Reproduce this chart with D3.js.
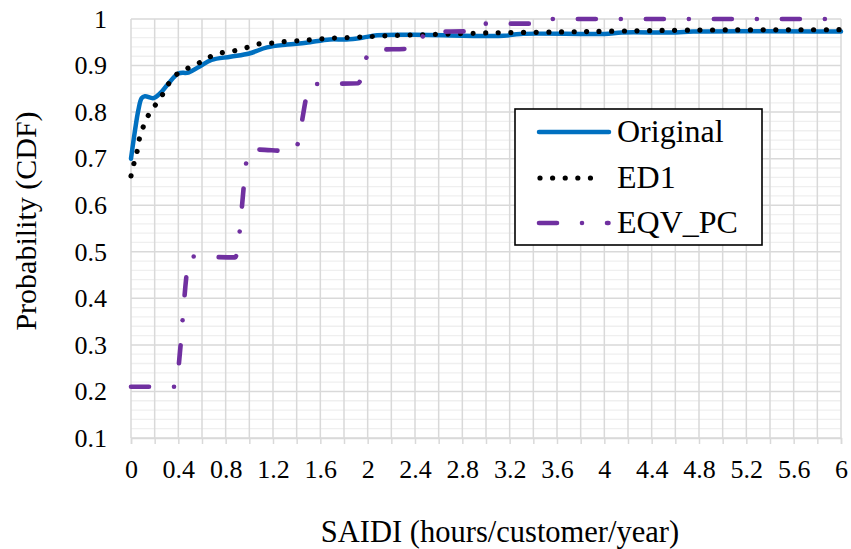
<!DOCTYPE html>
<html>
<head>
<meta charset="utf-8">
<script src="https://cdn.jsdelivr.net/npm/d3@7/dist/d3.min.js"></script>
<style>
  html, body { margin: 0; padding: 0; background: #fff; }
  svg text { font-family: "Liberation Serif", "Times New Roman", serif; }
</style>
</head>
<body>
<svg id="chart" width="851" height="549"></svg>
<script>
// SAIDI cumulative distributions
const originalX = [0, 0.034, 0.062, 0.09, 0.118, 0.19, 0.245, 0.315, 0.40, 0.485, 0.58, 0.68, 0.84, 1.0, 1.15, 1.32, 1.48, 1.68, 1.82, 1.96, 2.08, 2.4, 3.15, 3.29, 4.0, 4.15, 4.6, 4.75, 6.0];
const originalY = [0.70, 0.761, 0.804, 0.830, 0.834, 0.830, 0.840, 0.861, 0.883, 0.885, 0.898, 0.912, 0.919, 0.926, 0.939, 0.945, 0.949, 0.956, 0.956, 0.960, 0.965, 0.966, 0.964, 0.968, 0.968, 0.971, 0.971, 0.973, 0.973];

const ed1X = [0, 0.025, 0.05, 0.07, 0.10, 0.14, 0.20, 0.26, 0.31, 0.38, 0.47, 0.57, 0.66, 0.76, 0.86, 0.97, 1.07, 1.18, 1.28, 1.39, 1.5, 1.71, 1.94, 2.15, 2.59, 3.0, 3.6, 4.1, 4.7, 6.0];
const ed1Y = [0.663, 0.69, 0.714, 0.742, 0.766, 0.79, 0.813, 0.835, 0.858, 0.88, 0.893, 0.905, 0.918, 0.927, 0.931, 0.938, 0.946, 0.948, 0.951, 0.953, 0.955, 0.959, 0.961, 0.964, 0.967, 0.970, 0.972, 0.974, 0.976, 0.977];

const eqvX = [0, 0.37, 0.50, 0.88, 1.0, 1.38, 1.52, 1.92, 2.02, 2.40, 2.50, 2.90, 2.98, 3.45, 3.55, 6.0];
const eqvY = [0.21, 0.21, 0.49, 0.488, 0.72, 0.716, 0.86, 0.862, 0.933, 0.937, 0.972, 0.974, 0.99, 0.99, 1.0, 1.0];

const seriesNames = ["Original", "ED1", "EQV_PC"];
const xTickLabels = ["0", "0.4", "0.8", "1.2", "1.6", "2", "2.4", "2.8", "3.2", "3.6", "4", "4.4", "4.8", "5.2", "5.6", "6"];
const yTickLabels = ["0.1", "0.2", "0.3", "0.4", "0.5", "0.6", "0.7", "0.8", "0.9", "1"];

const FONT = '"Liberation Serif", "Times New Roman", serif';
const svg = d3.select("#chart");
const plotLeft = 131, plotRight = 841, plotTop = 19, plotBottom = 438;

const x = d3.scaleLinear().domain([0, 6]).range([plotLeft, plotRight]);
const y = d3.scaleLinear().domain([0.1, 1]).range([plotBottom, plotTop]);

// gridlines: light minor rows every 0.02, major rows every 0.1, columns every 0.2
const grid = svg.append("g");
const minorY = d3.range(10, 101, 2).map(v => v / 100).filter(v => Math.round(v * 100) % 10 !== 0);
grid.selectAll("line.minor").data(minorY).join("line")
  .attr("x1", plotLeft).attr("x2", plotRight)
  .attr("y1", d => y(d)).attr("y2", d => y(d))
  .attr("stroke", "#efefef").attr("stroke-width", 1.3);
const majorX = d3.range(0, 31).map(i => i * 0.2);
grid.selectAll("line.vx").data(majorX).join("line")
  .attr("x1", d => x(d)).attr("x2", d => x(d))
  .attr("y1", plotTop).attr("y2", plotBottom)
  .attr("stroke", "#d9d9d9").attr("stroke-width", 1.5);
const majorY = yTickLabels.map(Number);
grid.selectAll("line.hy").data(majorY).join("line")
  .attr("x1", plotLeft).attr("x2", plotRight)
  .attr("y1", d => y(d)).attr("y2", d => y(d))
  .attr("stroke", "#d9d9d9").attr("stroke-width", 1.5);

// x axis: small ticks every 0.2, labels every 0.4
const xTicksAxis = svg.append("g").attr("transform", `translate(0,${plotBottom})`)
  .call(d3.axisBottom(x).tickValues(majorX).tickSize(6).tickFormat(""));
xTicksAxis.select(".domain").attr("stroke", "#d9d9d9").attr("stroke-width", 1.5);
xTicksAxis.selectAll(".tick line").attr("stroke", "#d9d9d9").attr("stroke-width", 1.5);

const xLabelAxis = svg.append("g").attr("transform", `translate(0,${plotBottom})`)
  .call(d3.axisBottom(x).tickValues(xTickLabels.map(Number)).tickSize(0).tickPadding(21.5)
    .tickFormat((d, i) => xTickLabels[i]));
xLabelAxis.attr("font-family", FONT).attr("font-size", 26);
xLabelAxis.select(".domain").remove();
xLabelAxis.selectAll("text").attr("fill", "#000");

const yAxis = svg.append("g").attr("transform", `translate(${plotLeft},0)`)
  .call(d3.axisLeft(y).tickValues(majorY).tickSize(0).tickPadding(24)
    .tickFormat((d, i) => yTickLabels[i]));
yAxis.attr("font-family", FONT).attr("font-size", 26);
yAxis.select(".domain").remove();
yAxis.selectAll("text").attr("fill", "#000");

// axis titles
svg.append("text").attr("x", 500).attr("y", 542).attr("text-anchor", "middle")
  .attr("font-family", FONT).attr("font-size", 30.5).attr("fill", "#000")
  .text("SAIDI (hours/customer/year)");
svg.append("text").attr("transform", "translate(36,221) rotate(-90)").attr("text-anchor", "middle")
  .attr("font-family", FONT).attr("font-size", 30).attr("fill", "#000")
  .text("Probability (CDF)");

// series styles
const styles = [
  { color: "#0070C0", width: 4.5, dash: null, curve: d3.curveCatmullRom.alpha(0.5) },
  { color: "#000000", width: 5.2, dash: "0.01,12.6", curve: d3.curveCatmullRom.alpha(0.5) },
  { color: "#7030A0", width: 4.6, dash: "18,25,0.01,25", curve: d3.curveMonotoneX }
];

const seriesData = [
  d3.zip(originalX, originalY),
  d3.zip(ed1X, ed1Y),
  d3.zip(eqvX, eqvY)
];

seriesData.forEach((pts, i) => {
  const s = styles[i];
  const line = d3.line().x(d => x(d[0])).y(d => y(d[1])).curve(s.curve);
  svg.append("path").datum(pts)
    .attr("d", line)
    .attr("fill", "none")
    .attr("stroke", s.color)
    .attr("stroke-width", s.width)
    .attr("stroke-linecap", "round")
    .attr("stroke-linejoin", "round")
    .attr("stroke-dasharray", s.dash);
});

// legend
const lg = svg.append("g");
lg.append("rect").attr("x", 515).attr("y", 109).attr("width", 247).attr("height", 136)
  .attr("fill", "#fff").attr("stroke", "#000").attr("stroke-width", 1.6);
const rowBase = [142, 188, 233];
const sampleSpan = [[539, 609], [540, 603], [539, 608.5]];
seriesNames.forEach((name, i) => {
  const s = styles[i];
  const ly = rowBase[i] - 10;
  lg.append("line")
    .attr("x1", sampleSpan[i][0]).attr("x2", sampleSpan[i][1])
    .attr("y1", ly).attr("y2", ly)
    .attr("stroke", s.color).attr("stroke-width", s.width)
    .attr("stroke-linecap", "round")
    .attr("stroke-dasharray", s.dash);
  lg.append("text").attr("x", 617).attr("y", rowBase[i])
    .attr("font-family", FONT).attr("font-size", 32).attr("fill", "#000").text(name);
});
</script>
</body>
</html>
